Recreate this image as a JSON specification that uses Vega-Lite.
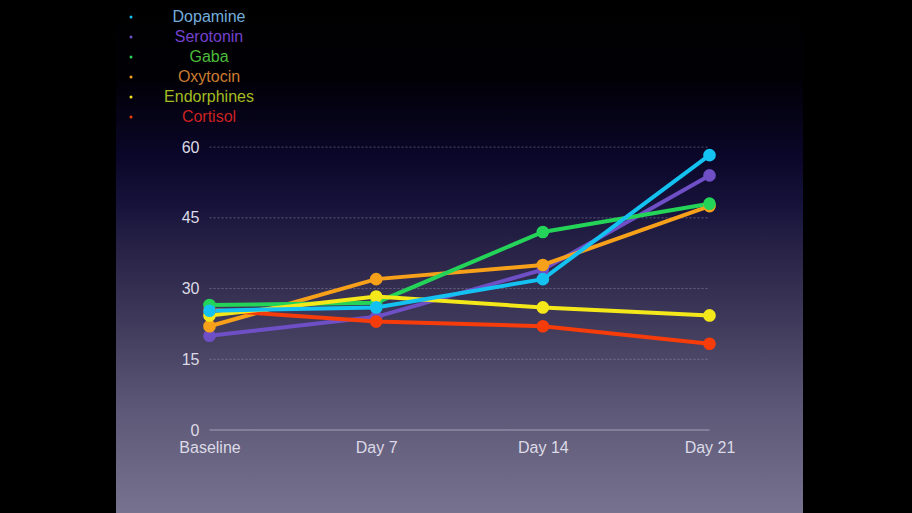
{
  "$schema": "https://vega.github.io/schema/vega-lite/v6.json",
  "width": 687,
  "height": 513,
  "autosize": {"type": "none"},
  "padding": {"left": 116, "top": 0, "right": 109, "bottom": 0},
  "background": "#000000",
  "config": {
    "view": {
      "stroke": null,
      "fill": {
        "gradient": "linear",
        "x1": 0, "y1": 0, "x2": 0, "y2": 1,
        "stops": [
          {"offset": 0, "color": "#000000"},
          {"offset": 0.15, "color": "#010005"},
          {"offset": 0.3, "color": "#0a0628"},
          {"offset": 0.4, "color": "#17123a"},
          {"offset": 0.5, "color": "#2a2548"},
          {"offset": 0.65, "color": "#433e5e"},
          {"offset": 0.8, "color": "#5d5877"},
          {"offset": 1, "color": "#77728e"}
        ]
      }
    },
    "font": "Liberation Sans"
  },
  "datasets": {
    "series": [
      {"substance": "Serotonin", "day": "Baseline", "level": 20},
      {"substance": "Serotonin", "day": "Day 7", "level": 24},
      {"substance": "Serotonin", "day": "Day 14", "level": 34},
      {"substance": "Serotonin", "day": "Day 21", "level": 54},
      {"substance": "Oxytocin", "day": "Baseline", "level": 22},
      {"substance": "Oxytocin", "day": "Day 7", "level": 32},
      {"substance": "Oxytocin", "day": "Day 14", "level": 35},
      {"substance": "Oxytocin", "day": "Day 21", "level": 47.5},
      {"substance": "Cortisol", "day": "Baseline", "level": 25.5},
      {"substance": "Cortisol", "day": "Day 7", "level": 23},
      {"substance": "Cortisol", "day": "Day 14", "level": 22},
      {"substance": "Cortisol", "day": "Day 21", "level": 18.3},
      {"substance": "Gaba", "day": "Baseline", "level": 26.5},
      {"substance": "Gaba", "day": "Day 7", "level": 27},
      {"substance": "Gaba", "day": "Day 14", "level": 42},
      {"substance": "Gaba", "day": "Day 21", "level": 48},
      {"substance": "Endorphines", "day": "Baseline", "level": 24.3},
      {"substance": "Endorphines", "day": "Day 7", "level": 28.3},
      {"substance": "Endorphines", "day": "Day 14", "level": 26},
      {"substance": "Endorphines", "day": "Day 21", "level": 24.3},
      {"substance": "Dopamine", "day": "Baseline", "level": 25.3},
      {"substance": "Dopamine", "day": "Day 7", "level": 26},
      {"substance": "Dopamine", "day": "Day 14", "level": 32},
      {"substance": "Dopamine", "day": "Day 21", "level": 58.3}
    ],
    "grid": [
      {"level": 15},
      {"level": 30},
      {"level": 45},
      {"level": 60}
    ],
    "base": [
      {"level": 0}
    ]
  },
  "encoding": {
    "x": {
      "field": "day",
      "type": "ordinal",
      "sort": ["Baseline", "Day 7", "Day 14", "Day 21"],
      "scale": {"type": "point", "padding": 0.561, "domain": ["Baseline", "Day 7", "Day 14", "Day 21"]},
      "axis": {
        "title": null,
        "orient": "bottom",
        "offset": -83,
        "domain": false,
        "ticks": false,
        "grid": false,
        "labelAngle": 0,
        "labelPadding": 9,
        "labelFontSize": 16,
        "labelColor": "#dcdae6",
        "labelFont": "Liberation Sans"
      }
    },
    "y": {
      "field": "level",
      "type": "quantitative",
      "scale": {"domain": [-17.6, 91.2], "nice": false, "zero": false},
      "axis": {
        "title": null,
        "offset": -94,
        "domain": false,
        "ticks": false,
        "grid": false,
        "values": [0, 15, 30, 45, 60],
        "labelPadding": 11,
        "labelFontSize": 16,
        "labelColor": "#dcdae6",
        "labelFont": "Liberation Sans"
      }
    }
  },
  "layer": [
    {
      "data": {"name": "grid"},
      "mark": {"type": "rule", "stroke": "#a8a4c0", "strokeOpacity": 0.45, "strokeWidth": 1, "strokeDash": [2, 2]},
      "encoding": {
        "x": {"datum": "Baseline"},
        "x2": {"datum": "Day 21"}
      }
    },
    {
      "data": {"name": "base"},
      "mark": {"type": "rule", "stroke": "#8f8ba6", "strokeWidth": 1.5},
      "encoding": {
        "x": {"datum": "Baseline"},
        "x2": {"datum": "Day 21"}
      }
    },
    {
      "data": {"name": "series"},
      "mark": {"type": "line", "strokeWidth": 4},
      "encoding": {
        "color": {
          "field": "substance",
          "type": "nominal",
          "scale": {
            "domain": ["Dopamine", "Serotonin", "Gaba", "Oxytocin", "Endorphines", "Cortisol"],
            "range": ["#14c2f2", "#6e4fc6", "#24d458", "#f7a01a", "#f5e81a", "#f53c0a"]
          },
          "legend": {
            "title": null,
            "orient": "none",
            "legendX": 7,
            "legendY": 9,
            "padding": 0,
            "symbolType": "circle",
            "symbolSize": 9,
            "rowPadding": 4,
            "labelAlign": "center",
            "labelOffset": 70,
            "labelFontSize": 16,
            "labelFont": "Liberation Sans",
            "labelLimit": 300,
            "encode": {
              "symbols": {
                "enter": {"fill": {"value": "#8a8a8a"}, "stroke": {"value": "#8a8a8a"}},
                "update": {"fill": {"value": "#8a8a8a"}, "stroke": {"value": "#8a8a8a"}, "strokeWidth": {"value": 0}}
              },
              "labels": {"update": {"fill": {"signal": "datum.value === 'Dopamine' ? '#74aedc' : datum.value === 'Serotonin' ? '#7442cc' : datum.value === 'Gaba' ? '#4cbc3c' : datum.value === 'Oxytocin' ? '#cc7c30' : datum.value === 'Endorphines' ? '#a4bc22' : '#cc2222'"}}}
            }
          }
        }
      }
    },
    {
      "data": {"name": "series"},
      "mark": {"type": "point", "filled": true, "size": 160, "opacity": 1},
      "encoding": {
        "color": {
          "field": "substance",
          "type": "nominal",
          "legend": {
            "title": null,
            "orient": "none",
            "legendX": 7,
            "legendY": 9,
            "padding": 0,
            "symbolType": "circle",
            "symbolSize": 9,
            "rowPadding": 4,
            "labelAlign": "center",
            "labelOffset": 70,
            "labelFontSize": 16,
            "labelFont": "Liberation Sans",
            "labelLimit": 300,
            "encode": {
              "symbols": {
                "enter": {"fill": {"value": "#8a8a8a"}, "stroke": {"value": "#8a8a8a"}},
                "update": {"fill": {"value": "#8a8a8a"}, "stroke": {"value": "#8a8a8a"}, "strokeWidth": {"value": 0}}
              },
              "labels": {"update": {"fill": {"signal": "datum.value === 'Dopamine' ? '#74aedc' : datum.value === 'Serotonin' ? '#7442cc' : datum.value === 'Gaba' ? '#4cbc3c' : datum.value === 'Oxytocin' ? '#cc7c30' : datum.value === 'Endorphines' ? '#a4bc22' : '#cc2222'"}}}
            }
          }
        }
      }
    }
  ]
}
